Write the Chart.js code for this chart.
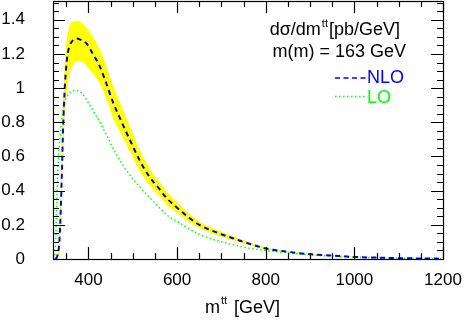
<!DOCTYPE html>
<html>
<head>
<meta charset="utf-8">
<script src="https://cdn.jsdelivr.net/npm/chart.js@4"></script>
<style>
  body { margin: 0; background: #fff; }
  #chart { display: block; }
</style>
</head>
<body>
<canvas id="chart" width="464" height="322"></canvas>
<script>
// values (x = m_tt in GeV, y = dσ/dm in pb/GeV)
const nloMass = [326, 330, 334, 337, 340, 343, 347, 352, 358, 365, 373, 385, 396, 410, 425, 440, 455, 470, 493, 515, 538, 560, 575, 600, 628, 650, 700, 724, 750, 800, 850, 900, 950, 1000, 1050, 1100, 1150, 1200];
const nloValues = [0, 0.02, 0.09, 0.25, 0.50, 0.78, 1.02, 1.18, 1.25, 1.28, 1.29, 1.28, 1.26, 1.20, 1.13, 1.03, 0.92, 0.83, 0.70, 0.58, 0.48, 0.41, 0.36, 0.30, 0.24, 0.20, 0.145, 0.123, 0.10, 0.062, 0.042, 0.028, 0.02, 0.012, 0.008, 0.005, 0.003, 0.002];

const bandMass = [326, 331, 335, 338, 341, 345, 350, 357, 366, 376, 390, 405, 425, 440, 455, 470, 493, 515, 538, 560, 575, 600, 628, 650, 700, 750, 800, 850, 900, 950, 1000, 1100, 1200];
const bandUpper = [0, 0.05, 0.22, 0.48, 0.78, 1.07, 1.26, 1.36, 1.39, 1.395, 1.37, 1.32, 1.23, 1.13, 1.02, 0.92, 0.78, 0.64, 0.53, 0.45, 0.40, 0.33, 0.265, 0.22, 0.16, 0.11, 0.069, 0.047, 0.031, 0.022, 0.014, 0.006, 0.003];
const bandLower = [0, 0.0, 0.06, 0.25, 0.50, 0.78, 0.96, 1.08, 1.14, 1.157, 1.145, 1.10, 1.03, 0.94, 0.83, 0.75, 0.63, 0.52, 0.43, 0.37, 0.32, 0.27, 0.215, 0.18, 0.13, 0.09, 0.055, 0.037, 0.025, 0.018, 0.01, 0.004, 0.0015];

const loMass = [322, 325, 327, 329, 332, 336, 340, 347, 355, 365, 375, 385, 396, 410, 426, 440, 455, 466, 480, 500, 520, 538, 560, 583, 600, 625, 650, 700, 724, 750, 800, 850, 900, 950, 1000, 1050, 1100, 1150, 1200];
const loValues = [0, 0.05, 0.2, 0.38, 0.58, 0.72, 0.82, 0.92, 0.965, 0.985, 0.985, 0.97, 0.93, 0.87, 0.80, 0.73, 0.65, 0.60, 0.54, 0.47, 0.41, 0.36, 0.30, 0.245, 0.22, 0.18, 0.145, 0.10, 0.085, 0.07, 0.05, 0.036, 0.025, 0.017, 0.011, 0.007, 0.005, 0.003, 0.002];

const xTickValues = [400, 600, 800, 1000, 1200];
const yTickValues = [0, 0.2, 0.4, 0.6, 0.8, 1, 1.2, 1.4];

const FONT = '"Liberation Sans", Arial, sans-serif';

function pts(xs, ys) {
  return xs.map((x, i) => ({ x: x, y: ys[i] }));
}

// inward ticks on all four sides plus the frame
const framePlugin = {
  id: 'frame',
  afterDatasetsDraw(chart) {
    const ctx = chart.ctx;
    const a = chart.chartArea;
    const xs = chart.scales.x;
    const ys = chart.scales.y;
    ctx.save();
    ctx.strokeStyle = '#000';
    ctx.lineWidth = 1.2;
    ctx.beginPath();
    for (let v = 350; v <= 1200; v += 50) {
      const px = Math.round(xs.getPixelForValue(v)) + 0.5;
      const len = (v % 200 === 0) ? 12 : 6;
      ctx.moveTo(px, a.bottom); ctx.lineTo(px, a.bottom - len);
      ctx.moveTo(px, a.top); ctx.lineTo(px, a.top + len);
    }
    for (let i = 0; i <= 30; i++) {
      const v = i * 0.05;
      const py = Math.round(ys.getPixelForValue(v)) + 0.5;
      const len = (i % 4 === 0) ? 12 : 6;
      ctx.moveTo(a.left, py); ctx.lineTo(a.left + len, py);
      ctx.moveTo(a.right, py); ctx.lineTo(a.right - len, py);
    }
    ctx.stroke();
    ctx.strokeRect(a.left + 0.5, a.top + 0.5, a.right - a.left, a.bottom - a.top);
    ctx.restore();
  },
  afterDraw(chart) {
    const ctx = chart.ctx;
    ctx.save();
    ctx.fillStyle = '#000';
    ctx.textBaseline = 'alphabetic';

    // key text, top right
    ctx.font = '18px ' + FONT;
    ctx.textAlign = 'right';
    ctx.fillText('[pb/GeV]', 400, 35);
    let w = ctx.measureText('[pb/GeV]').width;
    ctx.font = '11px ' + FONT;
    ctx.fillText('tt', 400 - w - 1, 27);
    const sw = ctx.measureText('tt').width;
    ctx.font = '18px ' + FONT;
    ctx.fillText('dσ/dm', 400 - w - sw - 2, 35);
    ctx.fillText('m(m) = 163 GeV', 406, 57);

    ctx.textAlign = 'left';
    ctx.fillStyle = '#0000ff';
    ctx.fillText('NLO', 367, 83);
    ctx.fillStyle = '#00ff00';
    ctx.fillText('LO', 367, 103);

    ctx.lineWidth = 1.6;
    ctx.strokeStyle = '#0000ff';
    ctx.setLineDash([5, 3.5]);
    ctx.beginPath(); ctx.moveTo(335, 78); ctx.lineTo(366, 78); ctx.stroke();
    ctx.lineWidth = 1.5;
    ctx.strokeStyle = '#00ff00';
    ctx.setLineDash([1.5, 2.5]);
    ctx.beginPath(); ctx.moveTo(335, 96.5); ctx.lineTo(366, 96.5); ctx.stroke();
    ctx.setLineDash([]);

    // x axis title with superscript
    ctx.fillStyle = '#000';
    ctx.font = '18px ' + FONT;
    ctx.fillText('m', 205, 313);
    ctx.font = '11px ' + FONT;
    ctx.fillText('tt', 221, 304);
    ctx.font = '18px ' + FONT;
    ctx.fillText('[GeV]', 234, 313);
    ctx.restore();
  }
};

new Chart(document.getElementById('chart'), {
  type: 'line',
  data: {
    datasets: [
      {
        label: 'NLO',
        data: pts(nloMass, nloValues),
        borderColor: '#0000ff',
        borderWidth: 2,
        borderDash: [5, 4],
        pointRadius: 0,
        fill: false,
        cubicInterpolationMode: 'monotone'
      },
      {
        label: 'LO',
        data: pts(loMass, loValues),
        borderColor: '#00ff00',
        borderWidth: 1.5,
        borderDash: [1.5, 2.5],
        pointRadius: 0,
        fill: false,
        cubicInterpolationMode: 'monotone'
      },
      {
        label: 'band upper',
        data: pts(bandMass, bandUpper),
        borderWidth: 0,
        borderColor: 'rgba(0,0,0,0)',
        backgroundColor: '#ffff00',
        pointRadius: 0,
        fill: '+1',
        cubicInterpolationMode: 'monotone'
      },
      {
        label: 'band lower',
        data: pts(bandMass, bandLower),
        borderWidth: 0,
        borderColor: 'rgba(0,0,0,0)',
        pointRadius: 0,
        fill: false,
        cubicInterpolationMode: 'monotone'
      }
    ]
  },
  options: {
    responsive: false,
    animation: false,
    devicePixelRatio: 1,
    layout: { padding: { left: 0, right: 21, top: 1, bottom: 0 } },
    plugins: {
      legend: { display: false },
      tooltip: { enabled: false }
    },
    scales: {
      x: {
        type: 'linear',
        min: 320,
        max: 1200,
        grid: { display: false, drawTicks: false },
        border: { display: false },
        afterBuildTicks: (s) => { s.ticks = xTickValues.map(v => ({ value: v })); },
        afterFit: (s) => { s.height = 63; s.paddingLeft = 0; s.paddingRight = 0; },
        ticks: {
          color: '#000',
          padding: 11,
          maxRotation: 0,
          font: { family: FONT, size: 17 },
          callback: (v) => String(v)
        }
      },
      y: {
        min: 0,
        max: 1.51,
        grid: { display: false, drawTicks: false },
        border: { display: false },
        afterBuildTicks: (s) => { s.ticks = yTickValues.map(v => ({ value: v })); },
        afterFit: (s) => { s.width = 53; s.paddingTop = 0; s.paddingBottom = 0; },
        ticks: {
          color: '#000',
          padding: 28,
          font: { family: FONT, size: 17 },
          callback: (v) => String(Math.round(v * 10) / 10)
        }
      }
    }
  },
  plugins: [framePlugin]
});
</script>
</body>
</html>
